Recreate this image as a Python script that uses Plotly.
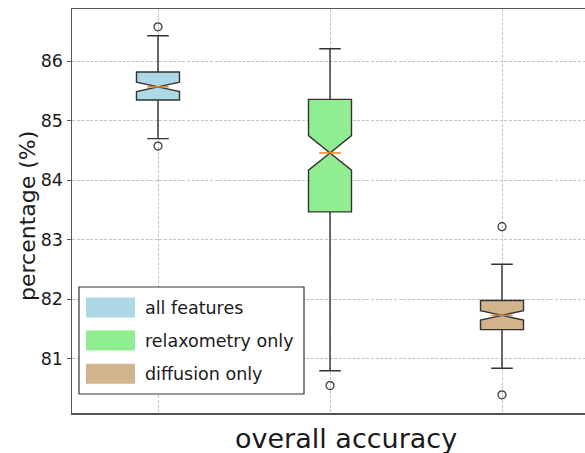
import plotly.graph_objects as go

# ---- data ----
groups = ["all features", "relaxometry only", "diffusion only"]
positions = [1, 2, 3]
q1 = [85.35, 83.47, 81.49]
median = [85.57, 84.46, 81.73]
q3 = [85.82, 85.36, 81.98]
lower_whisker = [84.70, 80.80, 80.84]
upper_whisker = [86.43, 86.21, 82.59]
notch_half = [0.08, 0.29, 0.08]
outliers = [[86.58, 84.575], [80.55], [83.22, 80.395]]
fill_colors = ["#add8e6", "#90ee90", "#d2b48c"]
y_ticks = [81, 82, 83, 84, 85, 86]

# ---- layout geometry (page pixels) ----
W, H = 585, 453
PL, PR, PT, PB = 72, 585, 9, 413        # plot area in page pixels
L, R, T, B = PL, W - PR, PT, H - PB
PW, PH = PR - PL, PB - PT


def px_x(p):
    return (p - PL) / PW


def px_y(p):
    return (PB - p) / PH


BOX_W = 0.25
FONT = "DejaVu Sans"
EDGE = "#333333"
TXT = "#1a1a1a"

fig = go.Figure()

for i in range(3):
    fig.add_trace(go.Box(
        x=[positions[i]],
        q1=[q1[i]], median=[median[i]], q3=[q3[i]],
        lowerfence=[lower_whisker[i]], upperfence=[upper_whisker[i]],
        notchspan=[notch_half[i]],
        notched=True, notchwidth=0.5, width=BOX_W, whiskerwidth=0.5,
        fillcolor=fill_colors[i],
        line=dict(color=EDGE, width=1.4),
        boxpoints=False, showlegend=False, hoverinfo="skip",
    ))
    # orange median line
    fig.add_trace(go.Scatter(
        x=[positions[i] - BOX_W / 4, positions[i] + BOX_W / 4],
        y=[median[i], median[i]],
        mode="lines", line=dict(color="#ff7f0e", width=1.5),
        showlegend=False, hoverinfo="skip",
    ))
    # outliers
    fig.add_trace(go.Scatter(
        x=[positions[i]] * len(outliers[i]), y=outliers[i],
        mode="markers",
        marker=dict(symbol="circle-open", size=8, color=EDGE, line=dict(width=1.2)),
        showlegend=False, hoverinfo="skip",
    ))

shapes = []
annotations = []

# legend (drawn manually to mimic matplotlib patches)
shapes.append(dict(type="rect", xref="paper", yref="paper",
                   x0=px_x(79), x1=px_x(304), y0=px_y(394), y1=px_y(287),
                   line=dict(color="#333333", width=1.2), fillcolor="white", layer="above"))
row_centers = [307.5, 340.5, 373.7]
for i, name in enumerate(groups):
    c = row_centers[i]
    shapes.append(dict(type="rect", xref="paper", yref="paper",
                       x0=px_x(86), x1=px_x(135), y0=px_y(c + 10), y1=px_y(c - 10),
                       line=dict(width=0), fillcolor=fill_colors[i], layer="above"))
    annotations.append(dict(text=name, xref="paper", yref="paper",
                            x=px_x(143), y=px_y(c), xanchor="left", yanchor="middle",
                            showarrow=False, font=dict(family=FONT, size=17.5, color=TXT)))

# axis labels
annotations.append(dict(text="overall accuracy", xref="paper", yref="paper",
                        x=px_x(346), y=px_y(438), xanchor="center", yanchor="middle",
                        showarrow=False, font=dict(family=FONT, size=27, color=TXT)))
annotations.append(dict(text="percentage (%)", xref="paper", yref="paper",
                        x=px_x(27), y=px_y(216), xanchor="center", yanchor="middle",
                        textangle=-90, showarrow=False,
                        font=dict(family=FONT, size=22, color=TXT)))

fig.update_layout(
    width=W, height=H,
    margin=dict(l=L, r=R, t=T, b=B, pad=0),
    paper_bgcolor="white", plot_bgcolor="white",
    font=dict(family=FONT, color=TXT),
    shapes=shapes, annotations=annotations,
    showlegend=False,
)
fig.update_xaxes(
    range=[0.5, 0.5 + PW / 172.0],
    tickvals=positions, ticktext=["", "", ""], ticks="",
    showgrid=True, gridcolor="#c4c4c4", griddash="3px,1.6px", gridwidth=1,
    showline=True, linecolor="#555555", linewidth=1.5, mirror=True,
    zeroline=False, fixedrange=True,
)
fig.update_yaxes(
    range=[80.089, 86.879],
    tickvals=y_ticks, ticktext=[str(v) for v in y_ticks],
    ticks="outside", ticklen=4, tickwidth=1.2, tickcolor="#555555",
    tickfont=dict(family=FONT, size=17.5, color=TXT),
    showgrid=True, gridcolor="#c4c4c4", griddash="3px,1.6px", gridwidth=1,
    showline=True, linecolor="#555555", linewidth=1.5, mirror=False,
    zeroline=False, fixedrange=True,
)

post = ("document.body.style.margin='0';"
        "document.body.style.overflow='hidden';"
        "document.documentElement.style.overflow='hidden';")
fig.write_html("out.html", post_script=post,
               config={"displayModeBar": False, "staticPlot": True})
